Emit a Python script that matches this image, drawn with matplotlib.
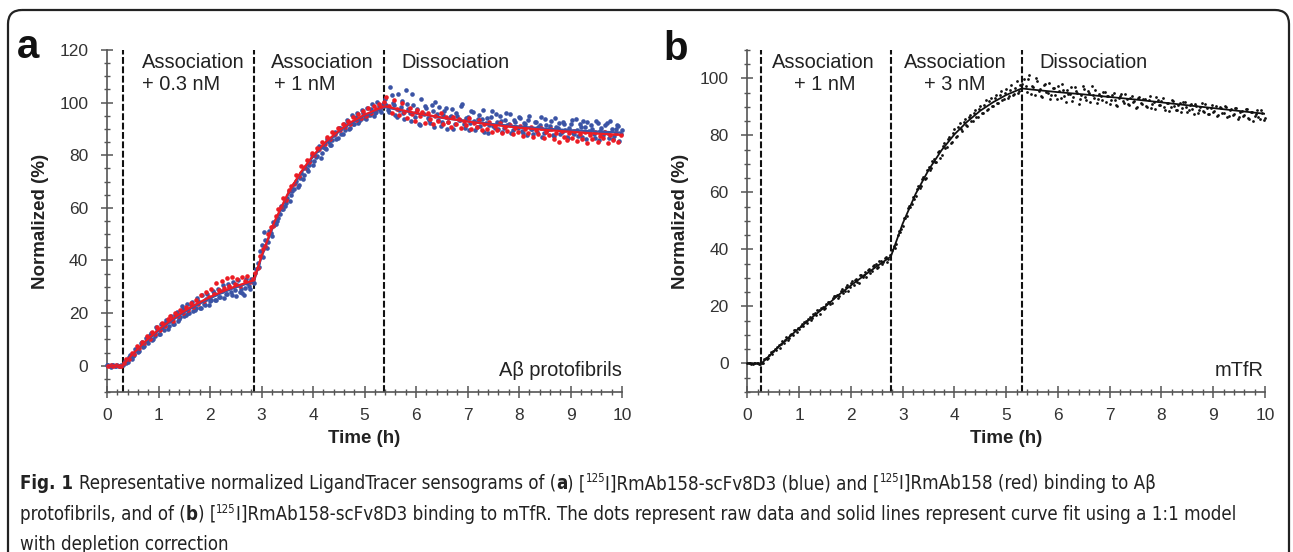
import numpy as np
import matplotlib
matplotlib.use("Agg")
import matplotlib.pyplot as plt
from matplotlib import font_manager as fm
from matplotlib.patches import FancyBboxPatch
from matplotlib.ticker import MultipleLocator

plt.rcParams['font.family'] = ['Liberation Sans', 'DejaVu Sans']

# ---- data (normalized %, every 0.05 h per list) ----
# panel a, blue: [125I]RmAb158-scFv8D3
blue_base = [0.3, -0.2, 0.1, -0.3, 0.2, 0.0, 0.4]                    # from 0.00 h
blue_base2 = [0.1, -0.4, 0.2, 0.0, -0.1, 0.3]                        # from 0.025 h
blue_assoc1 = [1.8, 1.5, 4.2, 3.6, 6.4, 5.2, 8.8, 7.1, 10.6, 8.7,      # from 0.35 h
               12.5, 10.2, 14.6, 12.0, 15.9, 13.6, 17.2, 15.1, 18.9, 16.0,
               20.4, 17.9, 22.5, 19.0, 23.6, 20.1, 24.3, 21.2, 25.6, 22.0,
               26.8, 23.0, 27.1, 24.4, 28.2, 25.1, 29.3, 26.0, 30.6, 27.2,
               31.1, 28.0, 31.8, 26.4, 32.6, 29.3, 27.0, 33.0, 30.2, 32.8,
               31.5]
blue_assoc1b = [1.0, 3.3, 2.7, 4.1, 5.9, 5.4, 9.0, 7.6, 9.2, 11.8,     # from 0.375 h
                9.9, 11.4, 13.9, 12.1, 14.3, 16.2, 14.0, 16.9, 15.8, 19.3,
                17.1, 18.5, 21.6, 19.4, 20.2, 22.9, 20.6, 21.8, 24.7, 22.1,
                23.6, 25.3, 23.2, 24.8, 27.5, 25.0, 26.1, 28.4, 25.7, 27.3,
                29.9, 27.0, 28.6, 30.8, 28.1, 27.6, 29.7, 31.4, 29.0, 31.9]
blue_assoc2 = [36.8, 37.5, 45.8, 50.9, 44.6, 51.2, 49.1, 53.3, 55.0, 57.8,  # from 2.90 h
               59.6, 60.8, 63.9, 62.7, 66.4, 69.5, 67.9, 71.3, 70.8, 75.4,
               74.1, 77.9, 76.2, 79.4, 81.8, 78.9, 83.1, 82.4, 85.2, 84.0,
               87.6, 86.1, 90.3, 88.2, 91.7, 93.4, 89.9, 95.1, 92.0, 96.0,
               93.1, 97.2, 94.3, 98.0, 95.1, 99.3, 96.2, 100.4, 97.0, 99.5]
blue_assoc2b = [39.0, 43.5, 41.2, 47.8, 47.0, 50.3, 54.6, 53.9, 56.2, 60.8,  # from 2.925 h
                59.7, 62.0, 66.3, 64.9, 67.1, 70.2, 68.8, 73.1, 72.6, 74.9,
                76.4, 80.1, 77.9, 79.6, 83.4, 81.0, 82.9, 86.3, 84.0, 85.8,
                88.9, 86.7, 90.5, 88.1, 89.6, 92.8, 90.3, 91.9, 94.7, 92.2,
                93.6, 96.1, 93.8, 95.2, 97.4, 94.9, 96.6, 98.8, 96.3, 99.9]
blue_diss = [101.5, 97.2, 106.0, 99.8, 95.3, 103.1, 98.4, 96.0, 104.7, 97.5,  # from 5.40 h
             93.1, 99.0, 96.4, 92.0, 101.3, 95.5, 97.8, 93.4, 99.2, 90.7,
             95.8, 98.4, 92.6, 96.9, 89.8, 94.5, 97.6, 91.8, 95.0, 93.2,
             99.4, 90.3, 94.6, 92.1, 96.3, 89.5, 93.8, 91.0, 97.1, 92.4,
             88.6, 94.7, 91.2, 95.6, 89.9, 93.0, 90.4, 96.2, 91.7, 88.3,
             93.5, 90.6, 94.4, 89.1, 92.3, 87.5, 95.0, 90.0, 92.8, 88.7,
             91.5, 86.9, 93.6, 89.4, 91.1, 87.8, 94.2, 90.2, 88.0, 92.5,
             89.6, 86.4, 91.9, 88.5, 93.7, 87.2, 90.8, 92.9, 86.0, 89.3,
             91.4, 88.1, 93.0, 85.7, 90.5, 88.9, 92.2, 86.6, 90.1, 87.4,
             91.6, 85.4, 89.7]
blue_diss2 = [99.1, 96.4, 102.8, 98.9, 94.6, 97.3, 100.5, 93.8, 99.6, 96.1,  # from 5.425 h
              103.4, 94.4, 97.7, 91.6, 95.9, 98.8, 94.0, 92.3, 96.7, 100.2,
              93.5, 91.1, 95.4, 97.9, 92.7, 94.9, 90.1, 96.0, 93.3, 98.6,
              91.8, 94.0, 89.4, 96.8, 92.9, 90.7, 95.1, 93.6, 88.9, 94.3,
              91.6, 96.9, 90.2, 92.5, 94.8, 89.0, 93.3, 91.4, 95.7, 89.6,
              92.6, 90.4, 94.1, 88.4, 91.9, 93.5, 89.8, 87.9, 92.7, 90.9,
              94.6, 88.6, 91.3, 89.9, 93.0, 87.3, 90.6, 92.4, 88.9, 91.7,
              86.8, 90.3, 93.2, 88.2, 89.7, 91.9, 87.0, 90.8, 92.6, 88.5,
              90.0, 86.5, 92.1, 89.1, 87.7, 91.3, 88.6, 93.1, 86.1, 89.9,
              91.0, 87.9]

# panel a, red: [125I]RmAb158
red_base = [0.0, 0.2, -0.1, 0.1, 0.0, -0.2]                           # from 0.025 h
red_assoc1 = [0.9, 2.4, 2.6, 5.0, 4.6, 7.3, 6.8, 9.0, 8.5, 11.2,        # from 0.325 h
              10.3, 12.8, 12.0, 14.6, 13.5, 16.4, 15.2, 17.6, 18.9, 17.0,
              20.1, 18.8, 21.3, 20.0, 22.4, 21.1, 23.7, 22.2, 24.9, 23.4,
              26.8, 24.5, 28.1, 26.0, 29.3, 27.4, 31.6, 28.6, 32.0, 29.5,
              33.2, 30.1, 33.8, 31.0, 32.9, 30.4, 33.6, 32.1, 34.0, 31.8,
              33.1]
red_assoc2 = [35.2, 37.0, 41.6, 44.5, 45.3, 50.2, 52.8, 52.9, 56.7, 59.4,  # from 2.875 h
              60.3, 63.8, 63.0, 66.9, 68.4, 69.1, 72.6, 72.0, 75.8, 75.1,
              78.3, 77.6, 80.9, 80.1, 82.8, 82.2, 84.9, 84.1, 87.0, 86.2,
              88.8, 87.9, 90.3, 89.4, 91.8, 90.7, 93.1, 92.0, 94.5, 93.2,
              95.6, 94.1, 96.8, 95.0, 97.9, 96.2, 98.8, 97.5, 99.6, 98.4,
              100.2]
red_diss = [102.3, 98.6, 96.1, 101.0, 97.4, 95.2, 99.8, 96.5, 94.3, 98.0,  # from 5.425 h
            95.6, 93.0, 97.1, 94.8, 96.3, 92.4, 95.9, 93.6, 91.7, 95.0,
            93.1, 96.2, 91.9, 94.4, 92.5, 90.8, 94.6, 92.0, 93.8, 90.4,
            92.9, 91.3, 94.1, 89.9, 92.2, 90.6, 93.4, 89.5, 91.8, 90.0,
            92.6, 88.8, 91.0, 89.7, 92.3, 88.4, 90.6, 89.1, 91.5, 87.9,
            90.2, 88.7, 91.1, 87.4, 89.8, 88.3, 90.7, 86.8, 89.4, 87.9,
            90.2, 86.5, 88.9, 87.6, 89.8, 86.2, 88.6, 84.9, 89.3, 87.1,
            85.8, 88.4, 86.7, 89.1, 85.4, 87.9, 86.3, 88.8, 84.6, 87.5,
            86.0, 88.9, 85.2, 87.3, 86.4, 89.0, 84.8, 87.6, 85.9, 88.5,
            85.0, 87.8]

# panel a, curve fits
fit_a_time = [0, 0.3, 0.5, 0.75, 1.0, 1.25, 1.5, 1.75, 2.0, 2.25, 2.5, 2.85,
              3.0, 3.25, 3.5, 3.75, 4.0, 4.25, 4.5, 4.75, 5.0, 5.25, 5.4,
              5.75, 6.0, 6.5, 7.0, 7.5, 8.0, 8.5, 9.0, 9.5, 10.0]
fit_a_red = [0, 0, 4.5, 9.4, 13.7, 17.5, 20.8, 23.6, 26.1, 28.3, 30.2, 32.4,
             41.7, 54.7, 65.0, 73.2, 79.9, 85.1, 89.3, 92.7, 95.4, 97.5, 98.6,
             97.0, 96.0, 94.3, 92.8, 91.5, 90.5, 89.6, 88.9, 88.2, 87.7]
fit_a_blue = [0, 0, 4.3, 9.1, 13.3, 17.0, 20.3, 23.1, 25.6, 27.8, 29.8, 32.0,
              41.3, 54.2, 64.5, 72.7, 79.4, 84.6, 88.9, 92.3, 95.0, 97.1, 98.2,
              96.9, 95.9, 94.2, 92.9, 91.8, 90.9, 90.1, 89.5, 89.0, 88.6]

# panel b, black: [125I]RmAb158-scFv8D3 on mTfR
black_base = [0.2, 0.0, -0.1, 0.1, 0.0, -0.2]                          # from 0.00 h
black_base2 = [0.1, -0.1, 0.2, 0.0, -0.1, 0.1]                         # from 0.025 h
black_assoc1 = [0.2, 1.9, 2.0, 3.9, 4.4, 4.6, 6.5, 6.9, 7.1, 9.3,      # from 0.30 h
                8.8, 10.4, 11.9, 10.9, 12.0, 13.9, 14.6, 14.1, 16.4, 15.8,
                17.6, 18.9, 17.5, 19.9, 19.6, 21.7, 20.9, 22.8, 23.5, 22.9,
                25.4, 24.8, 26.9, 25.6, 28.3, 27.6, 29.5, 28.2, 30.9, 31.2,
                30.5, 33.0, 32.4, 34.5, 33.6, 35.9, 34.8, 36.9, 35.7, 37.9]
black_assoc1b = [1.5, 1.4, 3.1, 3.3, 5.0, 5.8, 5.6, 7.8, 8.3, 8.2,     # from 0.325 h
                 10.1, 9.9, 11.8, 12.3, 13.0, 13.1, 15.0, 15.7, 15.2, 17.3,
                 17.0, 18.6, 19.4, 19.0, 21.0, 21.6, 21.3, 23.8, 24.0, 23.7,
                 26.1, 25.6, 27.4, 26.8, 28.9, 29.2, 28.6, 31.0, 30.4, 32.0,
                 32.9, 31.8, 34.2, 34.9, 33.9, 36.1, 35.5, 37.2, 36.6]
black_assoc2 = [39.8, 40.6, 45.1, 46.0, 48.2, 50.9, 54.6, 55.0, 58.3, 58.9,  # from 2.80 h
                62.4, 62.1, 65.6, 65.2, 68.8, 68.5, 71.9, 70.6, 74.4, 73.2,
                77.5, 75.9, 79.6, 77.8, 82.1, 79.7, 84.3, 81.6, 85.8, 83.4,
                87.2, 85.0, 89.1, 86.6, 90.3, 87.9, 92.4, 89.2, 93.0, 90.4,
                94.1, 91.5, 95.6, 92.8, 96.3, 93.9, 97.8, 94.7, 99.1, 95.6,
                98.2]
black_assoc2b = [41.3, 42.0, 46.4, 47.1, 50.9, 51.6, 55.3, 55.9, 57.8, 61.2,  # from 2.825 h
                 61.5, 64.8, 64.6, 68.0, 67.9, 71.0, 70.8, 74.1, 72.1, 76.3,
                 75.7, 78.9, 77.3, 81.0, 79.6, 83.0, 82.1, 84.6, 83.5, 86.4,
                 85.2, 88.0, 86.6, 89.3, 87.8, 90.8, 89.1, 92.0, 90.2, 93.1,
                 91.4, 94.2, 92.6, 95.0, 93.2, 95.9, 94.1, 96.8, 95.0, 97.6]
black_diss = [99.7, 95.1, 101.2, 97.3, 94.2, 99.0, 96.4, 93.6, 97.9, 95.0,  # from 5.35 h
              92.8, 96.6, 94.3, 97.5, 93.1, 95.8, 91.9, 94.7, 97.0, 93.4,
              95.5, 91.2, 94.1, 96.3, 92.5, 94.9, 97.2, 93.0, 91.4, 94.6,
              92.3, 95.4, 93.7, 91.1, 94.2, 92.6, 90.5, 93.9, 92.0, 94.5,
              90.9, 93.1, 91.6, 89.8, 93.2, 91.3, 92.8, 90.2, 92.3, 89.5,
              91.7, 93.4, 90.6, 92.1, 89.9, 91.5, 88.7, 92.4, 90.3, 88.9,
              91.4, 89.6, 91.9, 88.2, 90.7, 89.3, 91.2, 87.8, 90.0, 88.5,
              91.0, 87.6, 89.7, 88.3, 90.4, 87.1, 89.5, 88.0, 90.1, 86.8,
              89.2, 87.5, 89.6, 86.4, 88.7, 87.2, 89.4, 85.9, 88.3, 86.7,
              89.0, 85.6, 88.0, 86.3]
black_diss2 = [97.4, 99.8, 94.6, 96.9, 100.3, 95.5, 93.9, 97.6, 95.2, 98.4,  # from 5.375 h
               94.1, 96.8, 92.9, 95.6, 98.0, 93.8, 96.1, 94.5, 92.2, 96.9,
               94.8, 92.7, 97.4, 93.5, 95.7, 91.9, 94.3, 96.1, 92.8, 93.9,
               95.3, 91.7, 93.8, 92.4, 95.0, 90.8, 93.3, 94.6, 91.5, 92.9,
               90.6, 94.0, 92.1, 89.9, 93.5, 91.2, 92.7, 90.0, 93.8, 91.0,
               89.4, 92.6, 90.8, 93.1, 88.8, 91.4, 90.1, 92.0, 89.0, 90.7,
               88.4, 91.6, 90.0, 89.1, 91.1, 87.6, 90.4, 88.9, 91.3, 88.1,
               89.8, 87.4, 90.6, 88.6, 86.9, 89.9, 88.0, 90.3, 86.6, 88.8,
               87.3, 89.6, 85.8, 88.4, 87.0, 89.2, 86.2, 88.1, 84.9, 87.7,
               86.5, 88.9, 85.3]

fit_b_time = [0, 0.27, 0.5, 0.75, 1.0, 1.25, 1.5, 1.75, 2.0, 2.25, 2.5, 2.77,
              3.0, 3.25, 3.5, 3.75, 4.0, 4.25, 4.5, 4.75, 5.0, 5.3,
              5.5, 6.0, 6.5, 7.0, 7.5, 8.0, 8.5, 9.0, 9.5, 10.0]
fit_b = [0, 0, 4.1, 8.4, 12.4, 16.2, 19.9, 23.9, 27.4, 30.8, 34.1, 37.5,
         49.1, 59.5, 67.9, 74.8, 80.4, 84.9, 88.7, 91.7, 94.2, 96.5,
         96.1, 95.2, 94.4, 93.5, 92.6, 91.6, 90.6, 89.6, 88.6, 87.6]

# injection / wash times (h)
steps_a = [0.31, 2.86, 5.38]
steps_b = [0.26, 2.77, 5.3]

STEP = 0.05


def series(parts):
    # parts: list of (start time, values)
    t, y = [], []
    for start, vals in parts:
        t.extend(start + STEP * np.arange(len(vals)))
        y.extend(vals)
    return np.array(t), np.array(y)


blue_t, blue_y = series([(0.0, blue_base), (0.025, blue_base2),
                         (0.35, blue_assoc1), (0.375, blue_assoc1b),
                         (2.90, blue_assoc2), (2.925, blue_assoc2b),
                         (5.40, blue_diss), (5.425, blue_diss2)])
red_t, red_y = series([(0.025, red_base), (0.325, red_assoc1),
                       (2.875, red_assoc2), (5.425, red_diss)])
black_t, black_y = series([(0.0, black_base), (0.025, black_base2),
                           (0.30, black_assoc1), (0.325, black_assoc1b),
                           (2.80, black_assoc2), (2.825, black_assoc2b),
                           (5.35, black_diss), (5.375, black_diss2)])

BLUE = '#3b54a5'
RED = '#ec1c24'
AXC = '#555555'
TXT = '#222222'

fig = plt.figure(figsize=(12.93, 5.52), dpi=100)

# outer frame of the figure panel (pixel coordinates)
bg = fig.add_axes([0, 0, 1, 1], zorder=-1)
bg.set_xlim(0, 1293)
bg.set_ylim(552, 0)
bg.axis('off')
bg.add_patch(FancyBboxPatch((8, 10), 1281, 620, boxstyle='round,pad=0,rounding_size=14',
                            fc='none', ec='#222222', lw=1.6))

ax_a = fig.add_axes([0.0828, 0.2899, 0.3983, 0.6196])
ax_b = fig.add_axes([0.5781, 0.2899, 0.4002, 0.6196])


def style(ax, ytop):
    ax.set_xlim(0, 10)
    ax.set_ylim(-10, ytop)
    for s in ['top', 'right']:
        ax.spines[s].set_visible(False)
    for s in ['left', 'bottom']:
        ax.spines[s].set_color(AXC)
        ax.spines[s].set_linewidth(1.2)
    ax.xaxis.set_major_locator(MultipleLocator(1))
    ax.xaxis.set_minor_locator(MultipleLocator(0.2))
    ax.yaxis.set_major_locator(MultipleLocator(20))
    ax.yaxis.set_minor_locator(MultipleLocator(5))
    ax.tick_params(which='major', direction='inout', length=9, width=1.1, color=AXC,
                   labelsize=12.5, labelcolor='#333333')
    ax.tick_params(which='minor', direction='inout', length=5, width=1.0, color=AXC)
    ax.tick_params(axis='y', which='major', pad=9)
    ax.tick_params(axis='x', which='major', pad=7)
    ax.set_xlabel('Time (h)', fontsize=13.5, fontweight='bold', color=TXT)
    ax.set_ylabel('Normalized (%)', fontsize=13.5, fontweight='bold', color=TXT)
    ax.xaxis.set_label_coords(0.5, -0.112)
    ax.yaxis.set_label_coords(-0.113, 0.5)
    ax.patch.set_alpha(0)


style(ax_a, 120)
style(ax_b, 110)

for x in steps_a:
    ax_a.axvline(x, color='#111111', lw=1.5, dashes=(3.3, 1.2), zorder=1)
for x in steps_b:
    ax_b.axvline(x, color='#111111', lw=1.5, dashes=(3.3, 1.2), zorder=1)

# panel a
ax_a.scatter(blue_t, blue_y, s=11, color=BLUE, linewidths=0, zorder=3, clip_on=False)
ax_a.scatter(red_t, red_y, s=11, color=RED, linewidths=0, zorder=3, clip_on=False)
ax_a.plot(fit_a_time, fit_a_blue, color=BLUE, lw=1.6, zorder=4)
ax_a.plot(fit_a_time, fit_a_red, color=RED, lw=1.6, zorder=4)

# panel b
ax_b.scatter(black_t, black_y, s=4, color='#111111', linewidths=0, zorder=3, clip_on=False)
ax_b.plot(fit_b_time, fit_b, color='#111111', lw=1.3, zorder=4)

ann = dict(fontsize=14.4, color=TXT, ha='left', va='center')
ta = ax_a.get_xaxis_transform()
ax_a.text(0.67, 0.962, 'Association', transform=ta, **ann)
ax_a.text(0.67, 0.898, '+ 0.3 nM', transform=ta, **ann)
ax_a.text(3.19, 0.962, 'Association', transform=ta, **ann)
ax_a.text(3.24, 0.898, '+ 1 nM', transform=ta, **ann)
ax_a.text(5.71, 0.962, 'Dissociation', transform=ta, **ann)
ax_a.text(10.0, 0.064, 'A\u03b2 protofibrils', transform=ta, fontsize=14.4, color=TXT,
          ha='right', va='center')

tb = ax_b.get_xaxis_transform()
ax_b.text(0.48, 0.962, 'Association', transform=tb, **ann)
ax_b.text(0.90, 0.898, '+ 1 nM', transform=tb, **ann)
ax_b.text(3.02, 0.962, 'Association', transform=tb, **ann)
ax_b.text(3.42, 0.898, '+ 3 nM', transform=tb, **ann)
ax_b.text(5.65, 0.962, 'Dissociation', transform=tb, **ann)
ax_b.text(9.97, 0.064, 'mTfR', transform=tb, fontsize=14.4, color=TXT,
          ha='right', va='center')

# panel letters
bg.text(17, 58, 'a', fontsize=29, fontweight='bold', color='#111111', ha='left', va='baseline')
bg.text(663, 60, 'b', fontsize=29, fontweight='bold', color='#111111', ha='left', va='baseline')

# ---- caption: rich text built piece by piece ----
cond = fm.findfont(fm.FontProperties(family='DejaVu Sans', stretch='condensed'))
if 'Condensed' in cond:
    cap_prop = dict(family='DejaVu Sans', stretch='condensed')
else:
    cap_prop = dict(family='Liberation Sans')

renderer = fig.canvas.get_renderer()


def piece_width(s, size, weight):
    # width including trailing blanks, measured against a bar glyph
    t1 = bg.text(0, 0, s + '|', fontsize=size, fontweight=weight, **cap_prop)
    t2 = bg.text(0, 0, '|', fontsize=size, fontweight=weight, **cap_prop)
    w = t1.get_window_extent(renderer).width - t2.get_window_extent(renderer).width
    t1.remove()
    t2.remove()
    return w


def rich_line(x, y, parts, size, draw=True):
    for s, kind in parts:
        fs = size * 0.62 if kind == 'sup' else size
        wt = 'bold' if kind == 'b' else 'normal'
        yy = y - size * 0.55 if kind == 'sup' else y
        if draw:
            bg.text(x, yy, s, fontsize=fs, fontweight=wt, color='#222222',
                    ha='left', va='baseline', **cap_prop)
        x += piece_width(s, fs, wt)
    return x


cap1 = [('Fig. 1 ', 'b'), ('Representative normalized LigandTracer sensograms of (', 'n'),
        ('a', 'b'), (') [', 'n'), ('125', 'sup'), ('I]RmAb158-scFv8D3 (blue) and [', 'n'),
        ('125', 'sup'), ('I]RmAb158 (red) binding to A\u03b2', 'n')]
cap2 = [('protofibrils, and of (', 'n'), ('b', 'b'), (') [', 'n'), ('125', 'sup'),
        ('I]RmAb158-scFv8D3 binding to mTfR. The dots represent raw data and solid lines '
         'represent curve fit using a 1:1 model', 'n')]
cap3 = [('with depletion correction', 'n')]

# size the caption so its first line spans the same width as in the figure
cap_size = 14.0
w1 = rich_line(20, 0, cap1, cap_size, draw=False) - 20
cap_size = cap_size * 1145.0 / w1

rich_line(20, 489, cap1, cap_size)
rich_line(20, 520, cap2, cap_size)
rich_line(20, 550, cap3, cap_size)

fig.savefig('out.png', dpi=100)
